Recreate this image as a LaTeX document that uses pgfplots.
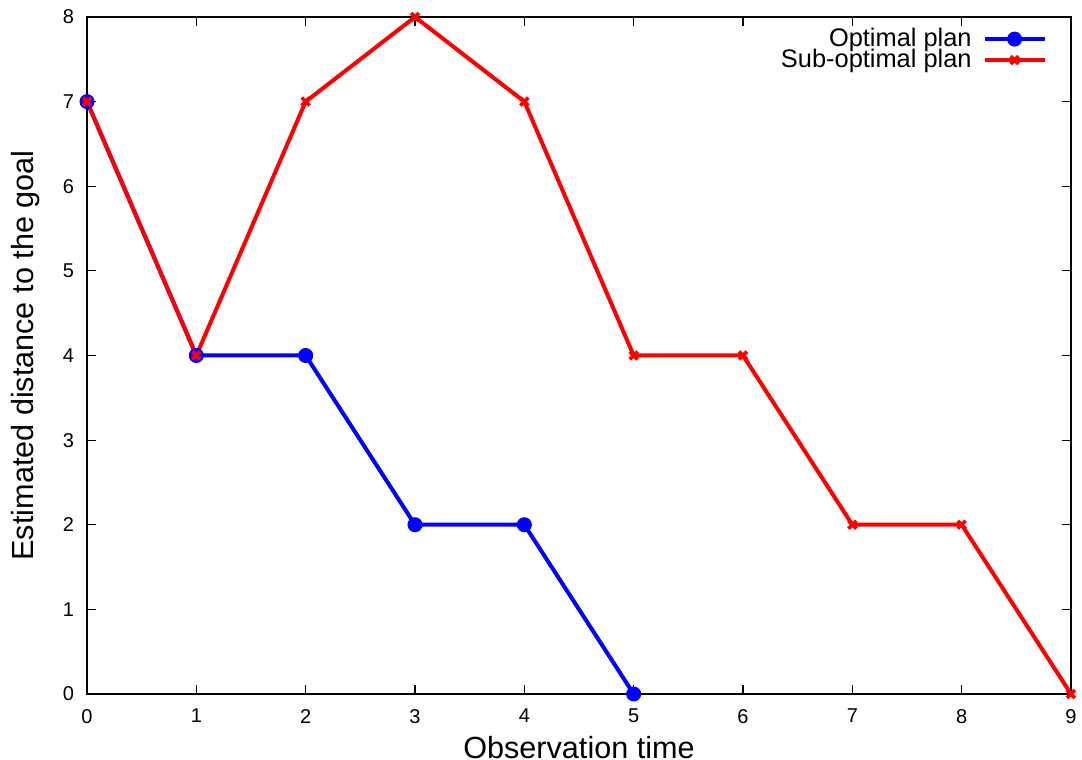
\documentclass[border=0pt]{standalone}
\usepackage{pgfplots}
\pgfplotsset{compat=1.18}
\usepackage{fontspec}
\setmainfont{Liberation Sans}

\begin{document}
\begin{tikzpicture}
\begin{axis}[
  name=ax,
  scale only axis,
  width=492pt, height=338.5pt,
  xmin=0, xmax=9, ymin=0, ymax=8,
  xtick={0,...,9}, ytick={0,...,8},
  tick align=inside,
  major tick length=4.5pt,
  axis line style={line width=0.75pt},
  every tick/.style={black, line width=0.6pt},
  tick label style={font=\fontsize{10}{12}\selectfont},
  /pgf/number format/assume math mode=true,
  xticklabel style={yshift=-4pt},
  yticklabel style={xshift=-3pt},
  xlabel={Observation time},
  ylabel={Estimated distance to the goal},
  label style={font=\fontsize{15.3}{17}\selectfont},
  xlabel style={yshift=0.5pt},
  ylabel style={yshift=4.5pt},
  clip=false,
  legend plot pos=right,
  legend cell align=right,
  legend style={draw=none, fill=none, at={(1,1)}, anchor=north east,
    xshift=-9pt, yshift=-1.5pt, font=\fontsize{12.7}{13}\selectfont,
    row sep=-4.2pt},
  legend image code/.code={
    \path (0pt,0pt);
    \draw[mark repeat=2, mark phase=2] plot coordinates {(3.5pt,0pt) (18.5pt,0pt) (33.5pt,0pt)};
  },
]
\addplot[blue, line width=2pt, mark=*, mark size=3.5pt, mark options={solid, line width=0.5pt}]
  coordinates {(0,7) (1,4) (2,4) (3,2) (4,2) (5,0)};
\addlegendentry{Optimal plan}
\addplot[red, line width=2pt, mark=x, mark size=2.8pt, mark options={line width=1.8pt}]
  coordinates {(0,7) (1,4) (2,7) (3,8) (4,7) (5,4) (6,4) (7,2) (8,2) (9,0)};
\addlegendentry{Sub-optimal plan}
\end{axis}
\pgfresetboundingbox
\path[use as bounding box] ([shift={(-43.5pt,-33pt)}]ax.south west) rectangle ([shift={(5.5pt,8.5pt)}]ax.north east);
\end{tikzpicture}
\end{document}
